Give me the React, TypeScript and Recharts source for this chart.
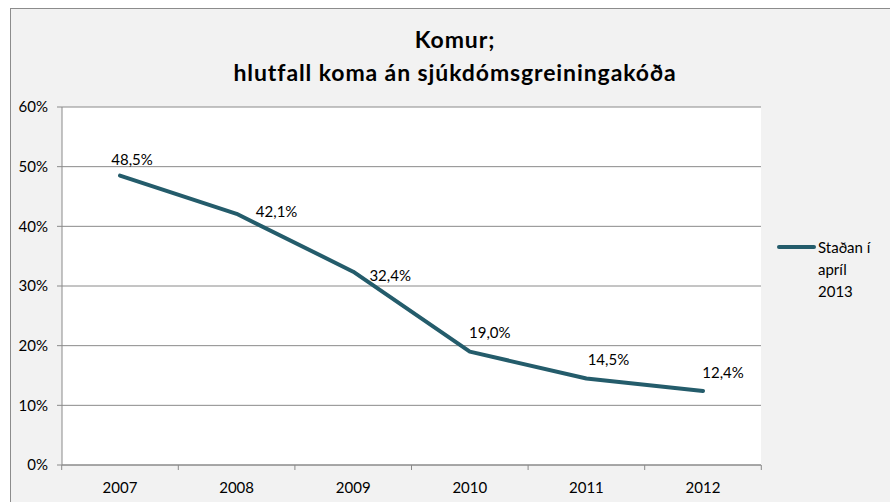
import React from "react";
import {
  LineChart,
  Line,
  XAxis,
  YAxis,
  CartesianGrid,
  Legend,
  LabelList,
} from "recharts";

// Gögn lesin af myndinni
const years = ["2007", "2008", "2009", "2010", "2011", "2012"];
const hlutfall = [48.5, 42.1, 32.4, 19.0, 14.5, 12.4];
const yTicks = [0, 10, 20, 30, 40, 50, 60];
const seriesName = "Staðan í apríl 2013";

const data = years.map((y, i) => ({ year: y, value: hlutfall[i] }));

const FONT = "Lato, 'Open Sans', sans-serif";
const LINE_COLOR = "#245C6B";
const GRID = "#8a8a8a";
const HALF_STEP = 58.3;

// Staðsetning gildismerkja miðað við punkt (eins og í Excel)
const labelOffsets = [
  { dx: 12, dy: -17 },
  { dx: 40, dy: -3 },
  { dx: 37, dy: 3 },
  { dx: 20, dy: -20 },
  { dx: 22, dy: -19 },
  { dx: 20, dy: -19 },
];

const fmt = (v: number) => v.toFixed(1).replace(".", ",") + "%";

const renderLabel = (props: any) => {
  const { x, y, value, index } = props;
  const o = labelOffsets[index] || { dx: 0, dy: -15 };
  return (
    <text
      x={x + o.dx}
      y={y + o.dy}
      textAnchor="middle"
      dominantBaseline="central"
      fontFamily={FONT}
      fontSize={15}
      fill="#000"
    >
      {fmt(value)}
    </text>
  );
};

const XTick = (props: any) => {
  const { x, y, payload, index } = props;
  const top = y - 8;
  return (
    <g>
      <line x1={x - HALF_STEP} x2={x - HALF_STEP} y1={top} y2={top + 5} stroke={GRID} />
      {index === years.length - 1 && (
        <line x1={x + HALF_STEP} x2={x + HALF_STEP} y1={top} y2={top + 5} stroke={GRID} />
      )}
      <text
        x={x}
        y={y + 14}
        textAnchor="middle"
        dominantBaseline="central"
        fontFamily={FONT}
        fontSize={15}
        fill="#000"
      >
        {payload.value}
      </text>
    </g>
  );
};

const LegendContent = (props: any) => {
  const entry = (props.payload || [])[0];
  if (!entry) return null;
  return (
    <div style={{ display: "flex", alignItems: "flex-start", fontFamily: FONT, fontSize: 15 }}>
      <div
        style={{
          width: 39,
          height: 4,
          borderRadius: 2,
          background: LINE_COLOR,
          marginTop: 9,
          marginRight: 2,
        }}
      />
      <div style={{ width: 62, lineHeight: "22px", color: "#000" }}>{entry.value}</div>
    </div>
  );
};

export default function App() {
  return (
    <div
      style={{
        position: "absolute",
        left: 0,
        top: 0,
        width: 890,
        height: 502,
        background: "#fff",
        overflow: "hidden",
      }}
    >
      <div
        style={{
          position: "absolute",
          left: 10,
          top: 8,
          width: 900,
          height: 520,
          background: "#F2F2F2",
          border: "1px solid #8c8c8c",
        }}
      />
      <div
        style={{
          position: "absolute",
          left: 0,
          top: 23,
          width: 910,
          textAlign: "center",
          fontFamily: FONT,
          fontWeight: 700,
          fontSize: 23,
          letterSpacing: 0.9,
          lineHeight: "33px",
          color: "#000",
        }}
      >
        Komur;
        <br />
        hlutfall koma án sjúkdómsgreiningakóða
      </div>
      <div style={{ position: "absolute", left: 0, top: 0 }}>
        <LineChart
          width={890}
          height={502}
          data={data}
          margin={{ top: 107, right: 129, bottom: 7, left: 12 }}
        >
          <CartesianGrid vertical={false} stroke={GRID} fill="#ffffff" />
          <XAxis
            dataKey="year"
            padding={{ left: 58, right: 58 }}
            height={30}
            axisLine={{ stroke: GRID }}
            tickLine={false}
            tick={<XTick />}
            interval={0}
          />
          <YAxis
            width={50}
            domain={[0, 60]}
            ticks={yTicks}
            interval={0}
            tickFormatter={(v: number) => `${v}%`}
            axisLine={{ stroke: GRID }}
            tickLine={{ stroke: GRID }}
            tickSize={5}
            tick={{ fontFamily: FONT, fontSize: 15, fill: "#000", dx: -7 }}
          />
          <Legend
            layout="horizontal"
            align="center"
            verticalAlign="middle"
            content={<LegendContent />}
            wrapperStyle={{ position: "absolute", left: 777, top: 236, width: 110 }}
          />
          <Line
            type="linear"
            dataKey="value"
            name={seriesName}
            stroke={LINE_COLOR}
            strokeWidth={4}
            strokeLinejoin="round"
            strokeLinecap="round"
            dot={false}
            activeDot={false}
            isAnimationActive={false}
          >
            <LabelList dataKey="value" content={renderLabel} />
          </Line>
        </LineChart>
      </div>
    </div>
  );
}
